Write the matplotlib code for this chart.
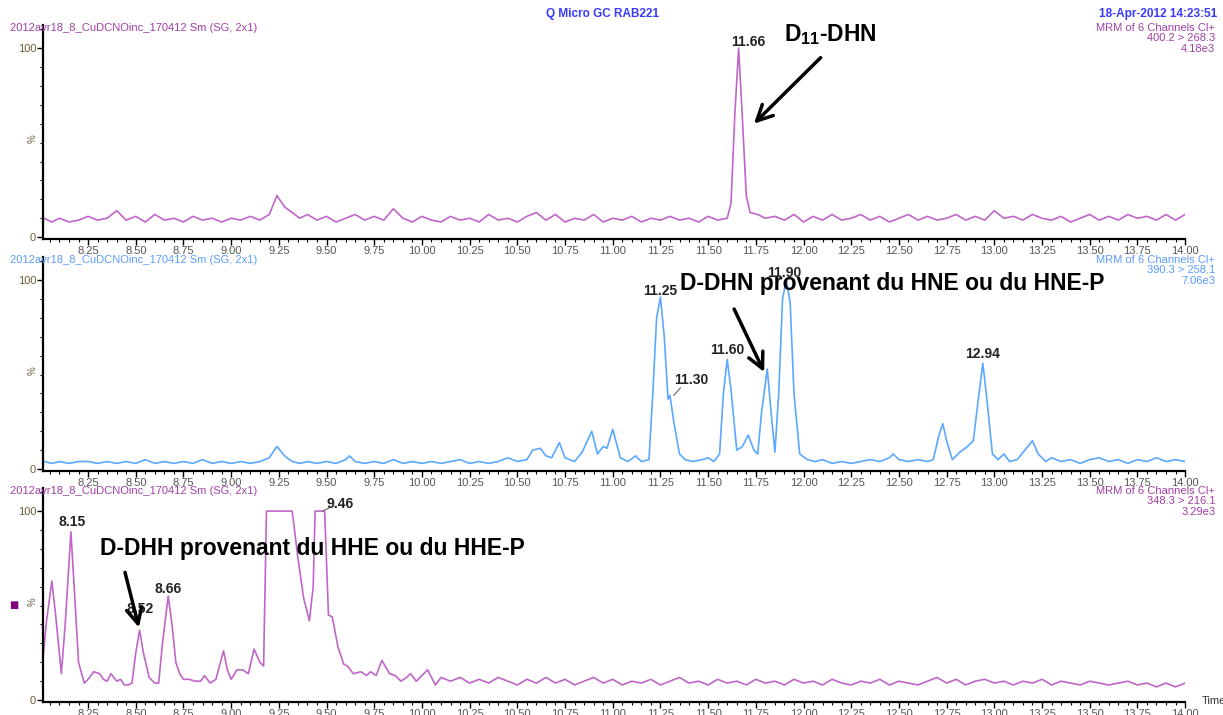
import matplotlib.pyplot as plt
from matplotlib.ticker import MultipleLocator

# ---- data (time in min, relative abundance %) ----
t_top = [8.02, 8.06, 8.10, 8.15, 8.20, 8.25, 8.30, 8.35, 8.40, 8.45, 8.50, 8.55, 8.60, 8.65,
         8.70, 8.75, 8.80, 8.85, 8.90, 8.95, 9.00, 9.05, 9.10, 9.15, 9.20, 9.24, 9.28, 9.32,
         9.36, 9.40, 9.45, 9.50, 9.55, 9.60, 9.65, 9.70, 9.75, 9.80, 9.85, 9.90, 9.95, 10.00,
         10.05, 10.10, 10.15, 10.20, 10.25, 10.30, 10.35, 10.40, 10.45, 10.50, 10.55, 10.60,
         10.65, 10.70, 10.75, 10.80, 10.85, 10.90, 10.95, 11.00, 11.05, 11.10, 11.15, 11.20,
         11.25, 11.30, 11.35, 11.40, 11.45, 11.50, 11.55, 11.60, 11.62, 11.64, 11.66, 11.68,
         11.70, 11.72, 11.76, 11.80, 11.85, 11.90, 11.95, 12.00, 12.05, 12.10, 12.15, 12.20,
         12.25, 12.30, 12.35, 12.40, 12.45, 12.50, 12.55, 12.60, 12.65, 12.70, 12.75, 12.80,
         12.85, 12.90, 12.95, 13.00, 13.05, 13.10, 13.15, 13.20, 13.25, 13.30, 13.35, 13.40,
         13.45, 13.50, 13.55, 13.60, 13.65, 13.70, 13.75, 13.80, 13.85, 13.90, 13.95, 14.00]
y_top = [10, 8, 10, 8, 9, 11, 9, 10, 14, 9, 11, 8, 12, 9,
         10, 8, 11, 9, 10, 8, 10, 9, 11, 9, 12, 22, 16, 13,
         10, 12, 9, 11, 8, 10, 12, 9, 11, 9, 15, 10, 8, 11,
         9, 8, 11, 9, 10, 8, 12, 9, 10, 8, 11, 13,
         9, 12, 8, 10, 9, 12, 8, 10, 9, 11, 8, 10,
         9, 11, 9, 10, 8, 11, 9, 10, 18, 65, 100, 62,
         22, 13, 12, 10, 11, 9, 12, 8, 11, 9, 12, 9,
         10, 12, 9, 11, 8, 10, 12, 9, 11, 9, 10, 12,
         9, 11, 9, 14, 10, 11, 9, 12, 10, 9, 11, 8,
         10, 12, 9, 11, 9, 12, 10, 11, 9, 12, 9, 12]

t_mid = [8.02, 8.06, 8.10, 8.15, 8.20, 8.25, 8.30, 8.35, 8.40, 8.45, 8.50, 8.55, 8.60, 8.65,
         8.70, 8.75, 8.80, 8.85, 8.90, 8.95, 9.00, 9.05, 9.10, 9.15, 9.20, 9.24, 9.28, 9.32,
         9.36, 9.40, 9.45, 9.50, 9.55, 9.60, 9.62, 9.65, 9.70, 9.75, 9.80, 9.85, 9.90, 9.95,
         10.00, 10.05, 10.10, 10.15, 10.20, 10.25, 10.30, 10.35, 10.40, 10.45, 10.50, 10.55,
         10.58, 10.62, 10.65, 10.68, 10.72, 10.75, 10.80, 10.84, 10.89, 10.92, 10.95, 10.97,
         11.00, 11.04, 11.08, 11.12, 11.15, 11.19, 11.21, 11.23, 11.25, 11.27, 11.29, 11.30,
         11.32, 11.35, 11.38, 11.42, 11.47, 11.50, 11.53, 11.56, 11.58, 11.60, 11.62, 11.65,
         11.68, 11.71, 11.74, 11.76, 11.78, 11.81, 11.83, 11.85, 11.87, 11.89, 11.91, 11.93,
         11.95, 11.98, 12.02, 12.06, 12.10, 12.15, 12.20, 12.25, 12.30, 12.35, 12.40, 12.45,
         12.47, 12.50, 12.55, 12.60, 12.65, 12.68, 12.71, 12.73, 12.75, 12.78, 12.82, 12.86,
         12.89, 12.92, 12.94, 12.96, 12.99, 13.02, 13.05, 13.08, 13.12, 13.16, 13.20, 13.23,
         13.27, 13.30, 13.35, 13.40, 13.45, 13.50, 13.55, 13.60, 13.65, 13.70, 13.75, 13.80,
         13.85, 13.90, 13.95, 14.00]
y_mid = [4, 3, 4, 3, 4, 4, 3, 4, 3, 4, 3, 5, 3, 4,
         3, 4, 3, 5, 3, 4, 3, 4, 3, 4, 6, 12, 7, 4,
         3, 4, 3, 4, 3, 5, 7, 4, 3, 4, 3, 5, 3, 4,
         3, 4, 3, 4, 5, 3, 4, 3, 4, 6, 4, 5,
         10, 11, 7, 6, 14, 6, 4, 9, 20, 8, 12, 11,
         21, 6, 4, 7, 4, 5, 40, 80, 91, 70, 37, 39,
         25, 8, 5, 4, 5, 6, 4, 8, 40, 58, 42, 10,
         12, 18, 10, 8, 30, 53, 30, 9, 40, 90, 100, 88,
         40, 8, 5, 4, 5, 3, 4, 3, 4, 5, 4, 6,
         8, 5, 4, 5, 4, 5, 18, 24, 15, 5, 9, 12,
         15, 40, 56, 38, 8, 5, 8, 4, 5, 10, 15, 8,
         4, 6, 4, 5, 3, 5, 6, 4, 5, 3, 5, 4,
         6, 4, 5, 4]

t_bot = [8.01, 8.03, 8.06, 8.08, 8.11, 8.13, 8.16, 8.18, 8.20, 8.23, 8.25, 8.28, 8.31, 8.33,
         8.35, 8.37, 8.40, 8.42, 8.44, 8.46, 8.48, 8.50, 8.52, 8.54, 8.57, 8.60, 8.62, 8.64,
         8.67, 8.69, 8.71, 8.73, 8.75, 8.78, 8.81, 8.84, 8.86, 8.89, 8.92, 8.96, 8.98, 9.00,
         9.03, 9.06, 9.09, 9.12, 9.15, 9.17, 9.185, 9.32, 9.35, 9.38, 9.41, 9.43, 9.44, 9.49,
         9.51, 9.53, 9.56, 9.59, 9.61, 9.64, 9.68, 9.71, 9.73, 9.76, 9.79, 9.83, 9.86, 9.89,
         9.92, 9.94, 9.97, 10.00, 10.03, 10.07, 10.10, 10.15, 10.20, 10.25, 10.30, 10.35,
         10.40, 10.45, 10.50, 10.55, 10.60, 10.65, 10.70, 10.75, 10.80, 10.85, 10.90, 10.95,
         11.00, 11.05, 11.10, 11.15, 11.20, 11.25, 11.30, 11.35, 11.40, 11.45, 11.50, 11.55,
         11.60, 11.65, 11.70, 11.75, 11.80, 11.85, 11.90, 11.95, 12.00, 12.05, 12.10, 12.15,
         12.20, 12.25, 12.30, 12.35, 12.40, 12.45, 12.50, 12.55, 12.60, 12.65, 12.70, 12.75,
         12.80, 12.85, 12.90, 12.95, 13.00, 13.05, 13.10, 13.15, 13.20, 13.25, 13.30, 13.35,
         13.40, 13.45, 13.50, 13.55, 13.60, 13.65, 13.70, 13.75, 13.80, 13.85, 13.90, 13.95,
         14.00]
y_bot = [18, 40, 63, 45, 14, 40, 89, 55, 20, 9, 11, 15, 14, 11,
         10, 14, 10, 11, 8, 8, 9, 25, 37, 25, 12, 9, 9, 30,
         55, 40, 20, 14, 11, 11, 10, 10, 13, 9, 11, 26, 16, 11,
         16, 16, 14, 27, 20, 18, 100, 100, 75, 54, 42, 60, 100, 100,
         45, 44, 28, 19, 18, 14, 15, 13, 15, 13, 21, 14, 13, 10,
         12, 14, 10, 13, 16, 8, 12, 10, 12, 9, 11, 9,
         12, 10, 8, 11, 9, 12, 9, 11, 8, 10, 12, 9,
         11, 8, 10, 9, 11, 8, 10, 12, 9, 10, 8, 11,
         9, 10, 8, 11, 9, 10, 8, 11, 9, 10, 8, 11,
         9, 8, 10, 9, 11, 8, 10, 9, 8, 10, 12, 9,
         11, 8, 10, 11, 9, 10, 8, 10, 9, 11, 8, 10,
         9, 8, 10, 9, 8, 9, 10, 8, 9, 7, 9, 7,
         9]

# peak labels (retention time shown above the peaks)
peaks_top = [(11.71, 103, '11.66')]
peaks_mid = [(11.25, 94, '11.25'), (11.41, 47, '11.30'), (11.60, 63, '11.60'),
             (11.90, 104, '11.90'), (12.94, 61, '12.94')]
peaks_bot = [(8.165, 94, '8.15'), (8.52, 48, '8.52'), (8.67, 59, '8.66'), (9.57, 104, '9.46')]

file_name = '2012avr18_8_CuDCNOinc_170412 Sm (SG, 2x1)'
channels = ['400.2 > 268.3', '390.3 > 258.1', '348.3 > 216.1']
intensities = ['4.18e3', '7.06e3', '3.29e3']

purple = '#c066c8'
purple_txt = '#a23fa6'
blue = '#5aa8ff'
blue_txt = '#5a9cff'

plt.rcParams['font.family'] = ['Liberation Sans', 'DejaVu Sans']
plt.rcParams['mathtext.fontset'] = 'custom'
plt.rcParams['mathtext.rm'] = 'Liberation Sans:bold'
big_font = ['Liberation Sans', 'DejaVu Sans']
big_size = 16.5

fig = plt.figure(figsize=(12.23, 7.15), dpi=100)

# axes boxes in figure fraction (left, bottom, width, height)
boxes = [(0.0352, 0.6657, 0.9338, 0.2987),
         (0.0352, 0.3413, 0.9338, 0.2987),
         (0.0352, 0.0182, 0.9338, 0.2987)]
traces = [(t_top, y_top, purple, purple_txt, peaks_top),
          (t_mid, y_mid, blue, blue_txt, peaks_mid),
          (t_bot, y_bot, purple, purple_txt, peaks_bot)]

axes = []
for box, (t, y, col, tcol, pk), chan, inten in zip(boxes, traces, channels, intensities):
    ax = fig.add_axes(box)
    ax.plot(t, y, color=col, lw=1.2)
    ax.set_xlim(8.014, 14.0)
    ax.set_ylim(-1, 112)
    for s in ['top', 'right']:
        ax.spines[s].set_visible(False)
    ax.spines['left'].set_linewidth(1.6)
    ax.spines['bottom'].set_linewidth(1.6)
    ax.xaxis.set_minor_locator(MultipleLocator(0.05))
    ax.set_xticks([8.25 + 0.25 * i for i in range(24)])
    ax.set_xticklabels(['%.2f' % (8.25 + 0.25 * i) for i in range(24)])
    ax.set_yticks([0, 100])
    ax.set_yticklabels(['0', '100'])
    ax.yaxis.set_minor_locator(MultipleLocator(10))
    ax.tick_params(axis='x', which='major', length=4, width=1, labelsize=8,
                   labelcolor='#555555', pad=1)
    ax.tick_params(axis='x', which='minor', length=2.5, width=0.8)
    ax.tick_params(axis='y', which='major', length=4, width=1, labelsize=8,
                   labelcolor='#6b5f3a', pad=1)
    ax.tick_params(axis='y', which='minor', length=2, width=0.8)
    ax.text(-0.009, 0.47, '%', transform=ax.transAxes, rotation=90, fontsize=7,
            color='#6b5f3a', ha='center', va='center')
    # header lines
    ax.text(-0.029, 0.99, file_name, transform=ax.transAxes, fontsize=8, color=tcol,
            ha='left', va='center')
    ax.text(1.0265, 0.99, 'MRM of 6 Channels Cl+', transform=ax.transAxes, fontsize=8,
            color=tcol, ha='right', va='center')
    ax.text(1.0265, 0.939, chan, transform=ax.transAxes, fontsize=8, color=tcol,
            ha='right', va='center')
    ax.text(1.0265, 0.888, inten, transform=ax.transAxes, fontsize=8, color=tcol,
            ha='right', va='center')
    for px, py, lab in pk:
        ax.text(px, py, lab, fontsize=10, fontweight='bold', color='#222222',
                ha='center', va='center')
    axes.append(ax)

ax_top, ax_mid, ax_bot = axes

# leader lines for labels that are offset from their peak
ax_mid.plot([11.32, 11.355], [39, 43], color='#666666', lw=0.8)
ax_bot.plot([9.48, 9.52], [100, 102], color='#666666', lw=0.8)

# run info
fig.text(0.493, 0.981, 'Q Micro GC RAB221', fontsize=8.5, fontweight='bold',
         color='#3a3aff', ha='center', va='center')
fig.text(0.995, 0.981, '18-Apr-2012 14:23:51', fontsize=8.5, fontweight='bold',
         color='#3a3aff', ha='right', va='center')
fig.text(0.9825, 0.02, 'Time', fontsize=8, color='#333333', ha='left', va='center')
fig.text(0.011, 0.154, '\u25a0', fontsize=7, color='#800080', ha='center', va='center',
         family=['DejaVu Sans'])

# compound annotations
arrow = dict(arrowstyle='->', lw=2.5, color='black', mutation_scale=28)
ax_top.annotate('', xy=(11.73, 59), xytext=(12.10, 96), arrowprops=arrow)
ax_top.text(12.14, 107, 'D$_{11}$-DHN', fontsize=big_size, fontweight='bold',
            family=big_font, ha='center', va='center')

ax_mid.annotate('', xy=(11.80, 50), xytext=(11.63, 86), arrowprops=arrow)
ax_mid.text(11.35, 98, 'D-DHN provenant du HNE ou du HNE-P', fontsize=big_size,
            fontweight='bold', family=big_font, ha='left', va='center')

ax_bot.annotate('', xy=(8.52, 37), xytext=(8.44, 69), arrowprops=arrow)
ax_bot.text(8.31, 80, 'D-DHH provenant du HHE ou du HHE-P', fontsize=big_size,
            fontweight='bold', family=big_font, ha='left', va='center')

plt.savefig('out.png', dpi=100)
